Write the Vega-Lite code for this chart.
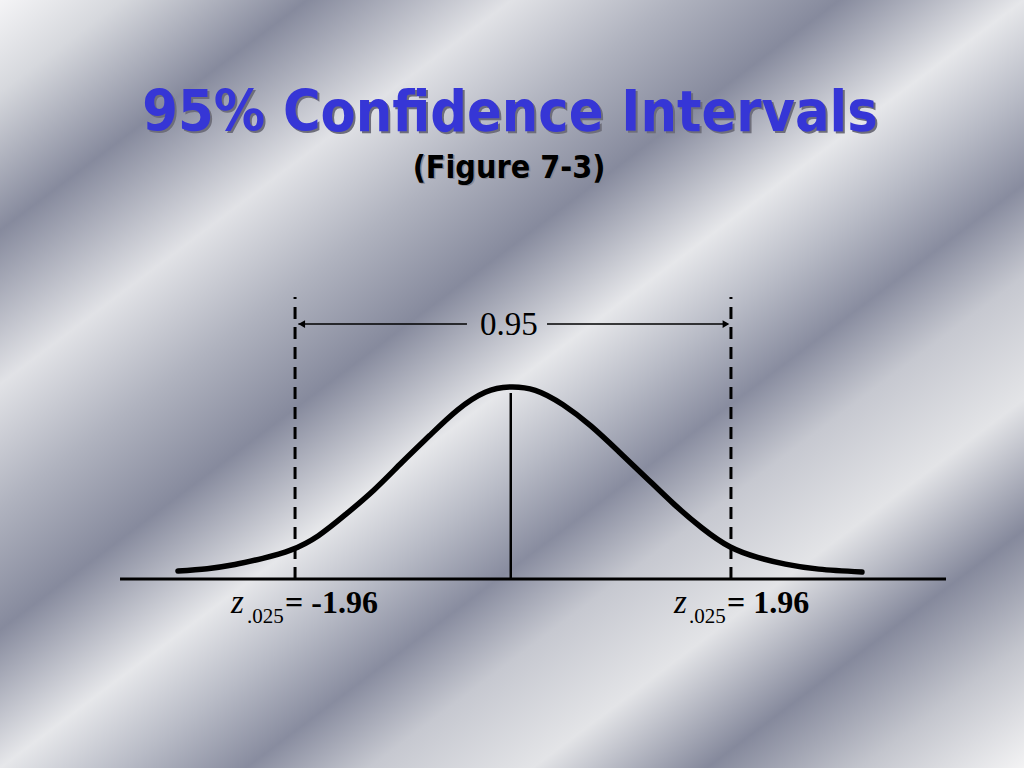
{
  "$schema": "https://vega.github.io/schema/vega-lite/v6.json",
  "width": 1024,
  "height": 768,
  "autosize": {"type": "fit", "contains": "padding"},
  "padding": 0,
  "config": {
    "view": {
      "stroke": null,
      "fill": {
        "gradient": "linear",
        "x1": 0, "y1": 0, "x2": 1, "y2": 1,
        "stops": [
          {"offset": 0.0, "color": "#f4f4f6"},
          {"offset": 0.06, "color": "#d6d8dd"},
          {"offset": 0.15, "color": "#868a9d"},
          {"offset": 0.25, "color": "#e1e2e6"},
          {"offset": 0.33, "color": "#b0b3bf"},
          {"offset": 0.41, "color": "#868a9d"},
          {"offset": 0.50, "color": "#e6e7ea"},
          {"offset": 0.56, "color": "#b8bbc6"},
          {"offset": 0.62, "color": "#888c9f"},
          {"offset": 0.68, "color": "#c6c8d0"},
          {"offset": 0.76, "color": "#e3e4e7"},
          {"offset": 0.845, "color": "#85899c"},
          {"offset": 0.92, "color": "#c3c5cd"},
          {"offset": 1.0, "color": "#f3f3f4"}
        ]
      }
    }
  },
  "datasets": {
    "curve": [
      {"z": -3.013, "density": 0.0166},
      {"z": -2.75, "density": 0.0215},
      {"z": -2.5, "density": 0.03},
      {"z": -2.25, "density": 0.043},
      {"z": -2.0, "density": 0.06},
      {"z": -1.75, "density": 0.09},
      {"z": -1.5, "density": 0.135},
      {"z": -1.25, "density": 0.185},
      {"z": -1.0, "density": 0.242},
      {"z": -0.75, "density": 0.298},
      {"z": -0.5, "density": 0.351},
      {"z": -0.25, "density": 0.388},
      {"z": -0.03, "density": 0.399},
      {"z": 0.2, "density": 0.392},
      {"z": 0.45, "density": 0.362},
      {"z": 0.7, "density": 0.318},
      {"z": 0.95, "density": 0.265},
      {"z": 1.2, "density": 0.21},
      {"z": 1.45, "density": 0.155},
      {"z": 1.7, "density": 0.106},
      {"z": 1.95, "density": 0.067},
      {"z": 2.2, "density": 0.045},
      {"z": 2.45, "density": 0.031},
      {"z": 2.75, "density": 0.0205},
      {"z": 3.138, "density": 0.0145}
    ],
    "critical": [
      {"z": -1.96, "label": "-1.96"},
      {"z": 1.96, "label": "1.96"}
    ]
  },
  "layer": [
    {
      "data": {"name": "curve"},
      "mark": {"type": "line", "interpolate": "natural", "color": "#000000", "strokeWidth": 5.5, "strokeCap": "round"},
      "encoding": {
        "x": {"field": "z", "type": "quantitative", "axis": null, "scale": {"domain": [-4.6133, 4.5953], "nice": false, "zero": false}},
        "y": {"field": "density", "type": "quantitative", "axis": null, "scale": {"domain": [-0.3927, 1.203], "nice": false, "zero": false}}
      }
    },
    {
      "data": {"values": [{}]},
      "mark": {"type": "rule", "color": "#000000", "strokeWidth": 3},
      "encoding": {
        "x": {"datum": -3.534, "type": "quantitative"},
        "x2": {"datum": 3.894},
        "y": {"datum": 0, "type": "quantitative"}
      }
    },
    {
      "data": {"name": "critical"},
      "mark": {"type": "rule", "color": "#000000", "strokeWidth": 3, "strokeDash": [12, 8]},
      "encoding": {
        "x": {"field": "z", "type": "quantitative"},
        "y": {"datum": 0, "type": "quantitative"},
        "y2": {"datum": 0.586}
      }
    },
    {
      "data": {"values": [{}]},
      "mark": {"type": "rule", "color": "#000000", "strokeWidth": 2.5},
      "encoding": {
        "x": {"datum": -0.02, "type": "quantitative"},
        "y": {"datum": 0, "type": "quantitative"},
        "y2": {"datum": 0.3865}
      }
    },
    {
      "data": {"values": [{}]},
      "mark": {"type": "rule", "color": "#000000", "strokeWidth": 1.5},
      "encoding": {
        "x": {"datum": -1.93, "type": "quantitative"},
        "x2": {"datum": -0.414},
        "y": {"datum": 0.5298, "type": "quantitative"}
      }
    },
    {
      "data": {"values": [{}]},
      "mark": {"type": "rule", "color": "#000000", "strokeWidth": 1.5},
      "encoding": {
        "x": {"datum": 0.306, "type": "quantitative"},
        "x2": {"datum": 1.93},
        "y": {"datum": 0.5298, "type": "quantitative"}
      }
    },
    {
      "data": {"values": [{}]},
      "mark": {"type": "point", "shape": "triangle-left", "filled": true, "color": "#000000", "size": 60, "opacity": 1},
      "encoding": {
        "x": {"datum": -1.9, "type": "quantitative"},
        "y": {"datum": 0.5298, "type": "quantitative"}
      }
    },
    {
      "data": {"values": [{}]},
      "mark": {"type": "point", "shape": "triangle-right", "filled": true, "color": "#000000", "size": 60, "opacity": 1},
      "encoding": {
        "x": {"datum": 1.915, "type": "quantitative"},
        "y": {"datum": 0.5298, "type": "quantitative"}
      }
    },
    {
      "data": {"values": [{}]},
      "mark": {"type": "text", "text": "0.95", "font": "Liberation Serif", "fontSize": 33, "align": "center", "baseline": "alphabetic", "color": "#000000"},
      "encoding": {
        "x": {"datum": -0.036, "type": "quantitative"},
        "y": {"datum": 0.507, "type": "quantitative"}
      }
    },
    {
      "data": {"values": [{}]},
      "mark": {"type": "text", "text": "z", "font": "Liberation Serif", "fontStyle": "italic", "fontSize": 33, "align": "left", "baseline": "alphabetic", "color": "#000000"},
      "encoding": {
        "x": {"datum": -2.536, "type": "quantitative"},
        "y": {"datum": -0.0706, "type": "quantitative"}
      }
    },
    {
      "data": {"values": [{}]},
      "mark": {"type": "text", "text": ".025", "font": "Liberation Serif", "fontSize": 21, "align": "left", "baseline": "alphabetic", "color": "#000000"},
      "encoding": {
        "x": {"datum": -2.392, "type": "quantitative"},
        "y": {"datum": -0.0914, "type": "quantitative"}
      }
    },
    {
      "data": {"values": [{}]},
      "mark": {"type": "text", "text": "= -1.96", "font": "Liberation Serif", "fontWeight": "bold", "fontSize": 32, "align": "left", "baseline": "alphabetic", "color": "#000000"},
      "encoding": {
        "x": {"datum": -2.05, "type": "quantitative"},
        "y": {"datum": -0.0706, "type": "quantitative"}
      }
    },
    {
      "data": {"values": [{}]},
      "mark": {"type": "text", "text": "z", "font": "Liberation Serif", "fontStyle": "italic", "fontSize": 33, "align": "left", "baseline": "alphabetic", "color": "#000000"},
      "encoding": {
        "x": {"datum": 1.448, "type": "quantitative"},
        "y": {"datum": -0.0706, "type": "quantitative"}
      }
    },
    {
      "data": {"values": [{}]},
      "mark": {"type": "text", "text": ".025", "font": "Liberation Serif", "fontSize": 21, "align": "left", "baseline": "alphabetic", "color": "#000000"},
      "encoding": {
        "x": {"datum": 1.583, "type": "quantitative"},
        "y": {"datum": -0.0914, "type": "quantitative"}
      }
    },
    {
      "data": {"values": [{}]},
      "mark": {"type": "text", "text": "= 1.96", "font": "Liberation Serif", "fontWeight": "bold", "fontSize": 32, "align": "left", "baseline": "alphabetic", "color": "#000000"},
      "encoding": {
        "x": {"datum": 1.925, "type": "quantitative"},
        "y": {"datum": -0.0706, "type": "quantitative"}
      }
    },
    {
      "data": {"values": [{}]},
      "mark": {"type": "text", "text": "95% Confidence Intervals", "font": "DejaVu Sans Condensed", "fontWeight": "bold", "fontSize": 57, "align": "center", "baseline": "alphabetic", "color": "#6e6e7a", "dx": 2, "dy": 2},
      "encoding": {
        "x": {"datum": -0.027, "type": "quantitative"},
        "y": {"datum": 0.9308, "type": "quantitative"}
      }
    },
    {
      "data": {"values": [{}]},
      "mark": {"type": "text", "text": "95% Confidence Intervals", "font": "DejaVu Sans Condensed", "fontWeight": "bold", "fontSize": 57, "align": "center", "baseline": "alphabetic", "color": "#3636d6"},
      "encoding": {
        "x": {"datum": -0.027, "type": "quantitative"},
        "y": {"datum": 0.9308, "type": "quantitative"}
      }
    },
    {
      "data": {"values": [{}]},
      "mark": {"type": "text", "text": "(Figure 7-3)", "font": "DejaVu Sans Condensed", "fontWeight": "bold", "fontSize": 32, "align": "center", "baseline": "alphabetic", "color": "#8a8a94", "dx": 1.5, "dy": 1.5},
      "encoding": {
        "x": {"datum": -0.036, "type": "quantitative"},
        "y": {"datum": 0.8332, "type": "quantitative"}
      }
    },
    {
      "data": {"values": [{}]},
      "mark": {"type": "text", "text": "(Figure 7-3)", "font": "DejaVu Sans Condensed", "fontWeight": "bold", "fontSize": 32, "align": "center", "baseline": "alphabetic", "color": "#000000"},
      "encoding": {
        "x": {"datum": -0.036, "type": "quantitative"},
        "y": {"datum": 0.8332, "type": "quantitative"}
      }
    }
  ]
}
